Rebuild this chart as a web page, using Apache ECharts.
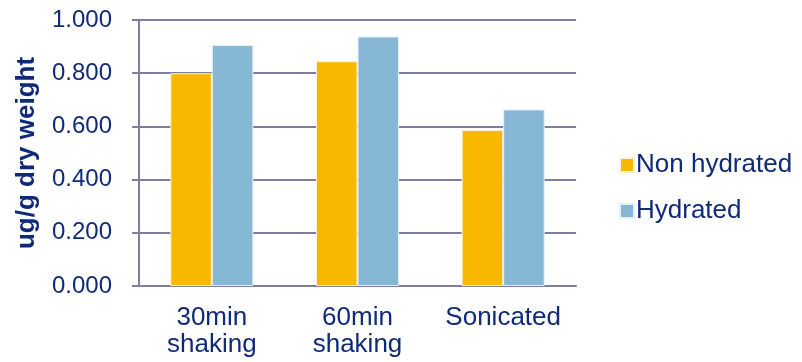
<!DOCTYPE html>
<html>
<head>
<meta charset="utf-8">
<script src="https://cdn.jsdelivr.net/npm/echarts@6/dist/echarts.min.js"></script>
<style>
  html, body { margin: 0; padding: 0; background: #ffffff; }
  #chart { width: 802px; height: 362px; }
</style>
</head>
<body>
<div id="chart"></div>
<script>
// Extraction method comparison: concentration per gram of dry weight
const categories = ['30min\nshaking', '60min\nshaking', 'Sonicated'];
const nonHydrated = [0.800, 0.845, 0.586];
const hydrated = [0.906, 0.938, 0.664];
const seriesNames = ['Non hydrated', 'Hydrated'];
const yTicks = { min: 0, max: 1, interval: 0.2 };

const textColor = '#0f2a78';
const axisColor = '#7e7f9e';
const fontFamily = 'Liberation Sans, Arial, sans-serif';

const chart = echarts.init(document.getElementById('chart'), null, { renderer: 'canvas' });

chart.setOption({
  animation: false,
  backgroundColor: '#ffffff',
  grid: { left: 139, right: 226, top: 20, bottom: 76, containLabel: false, outerBoundsMode: 'none' },
  legend: {
    orient: 'vertical',
    left: 614,
    top: 147,
    itemWidth: 14,
    itemHeight: 14,
    itemGap: 20,
    icon: 'rect',
    textStyle: { color: textColor, fontSize: 26, fontFamily: fontFamily, padding: [0, 0, 0, -3] },
    data: seriesNames
  },
  xAxis: {
    type: 'category',
    data: categories,
    axisLine: { show: true, lineStyle: { color: axisColor, width: 2 } },
    axisTick: { show: false },
    axisLabel: {
      color: textColor,
      fontSize: 26,
      fontFamily: fontFamily,
      lineHeight: 27,
      margin: 18,
      interval: 0
    }
  },
  yAxis: {
    type: 'value',
    min: yTicks.min,
    max: yTicks.max,
    interval: yTicks.interval,
    name: 'ug/g dry weight',
    nameLocation: 'middle',
    nameRotate: 90,
    nameGap: 99,
    nameTextStyle: { color: textColor, fontSize: 26, fontWeight: 'bold', fontFamily: fontFamily },
    axisLine: { show: true, lineStyle: { color: axisColor, width: 2 } },
    axisTick: { show: true, inside: false, length: 7, lineStyle: { color: axisColor, width: 2 } },
    axisLabel: {
      color: textColor,
      fontSize: 24,
      fontFamily: fontFamily,
      margin: 27,
      formatter: v => v.toFixed(3)
    },
    splitLine: { show: true, lineStyle: { color: axisColor, width: 2 } }
  },
  series: [
    {
      name: seriesNames[0],
      type: 'bar',
      data: nonHydrated,
      barGap: '0%',
      barCategoryGap: '43%',
      itemStyle: { color: '#f9b800', borderColor: '#fdf3d6', borderWidth: 1 }
    },
    {
      name: seriesNames[1],
      type: 'bar',
      data: hydrated,
      itemStyle: { color: '#86b8d6', borderColor: '#e6f0f7', borderWidth: 1 }
    }
  ]
});
</script>
</body>
</html>
